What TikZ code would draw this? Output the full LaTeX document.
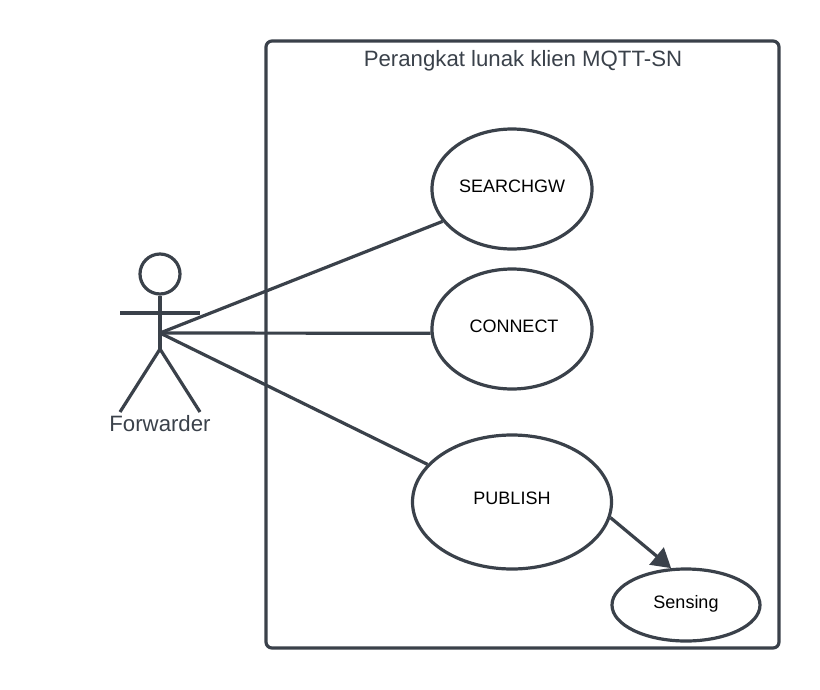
\documentclass[tikz,border=0pt]{standalone}
\usepackage{fontspec}
\setmainfont{Liberation Sans}
\usetikzlibrary{arrows.meta,shapes.geometric}
\definecolor{inkslate}{HTML}{3A414A}
\tikzset{
    usecase/.style={draw=inkslate, line width=3.2pt, ellipse, inner sep=0pt},
    usetext/.style={text=black, font=\fontsize{18}{20}\selectfont, inner sep=0pt},
    link/.style={draw=inkslate, line width=3.2pt},
    caption/.style={text=inkslate, font=\fontsize{22.2}{26}\selectfont, inner sep=0pt}
}
\begin{document}
\begin{tikzpicture}[x=1pt, y=-1pt]
    \useasboundingbox (0,0) rectangle (820,689);
    \node[draw=inkslate, line width=3.2pt, rounded corners=6pt, minimum width=513pt, minimum height=607pt, inner sep=0pt] (system) at (522.5,344.5) {};
    \node[caption] (systemname) at (523,61) {Perangkat lunak klien MQTT-SN};
    \node[usecase, minimum width=160pt, minimum height=120pt] (searchgw) at (512,189) {};
    \node[usetext] (searchgwtext) at (512,186) {SEARCHGW};
    \node[usecase, minimum width=160pt, minimum height=120pt] (connect) at (512,329) {};
    \node[usetext] (connecttext) at (514,326) {CONNECT};
    \node[usecase, minimum width=199pt, minimum height=134pt] (publish) at (512,502) {};
    \node[usetext] (publishtext) at (512,498) {PUBLISH};
    \node[usecase, minimum width=148pt, minimum height=72pt] (sensing) at (686,605) {};
    \node[usetext] (sensingtext) at (686,604) {Sensing};
    % actor
    \node[draw=inkslate, line width=3.2pt, circle, minimum size=40pt, inner sep=0pt] (head) at (160,274) {};
    \coordinate (hip) at (160,349);
    \coordinate (hub) at (160,333);
    \coordinate (armleft) at (120,313);
    \coordinate (armright) at (200,313);
    \coordinate (footleft) at (120,412);
    \coordinate (footright) at (200,412);
    \draw[link] (head) -- (hip);
    \draw[link] (armleft) -- (armright);
    \draw[link] (footleft) -- (hip) -- (footright);
    \node[caption] (forwarder) at (160,424) {Forwarder};
    % connectors
    \draw[link] (hub) -- (searchgw.205);
    \draw[link] (hub) -- (connect.183);
    \draw[link] (hub) -- (publish.156);
    \draw[link, -{Triangle[length=19pt, width=22pt]}] (publish.-9) -- (sensing.112);
\end{tikzpicture}
\end{document}
